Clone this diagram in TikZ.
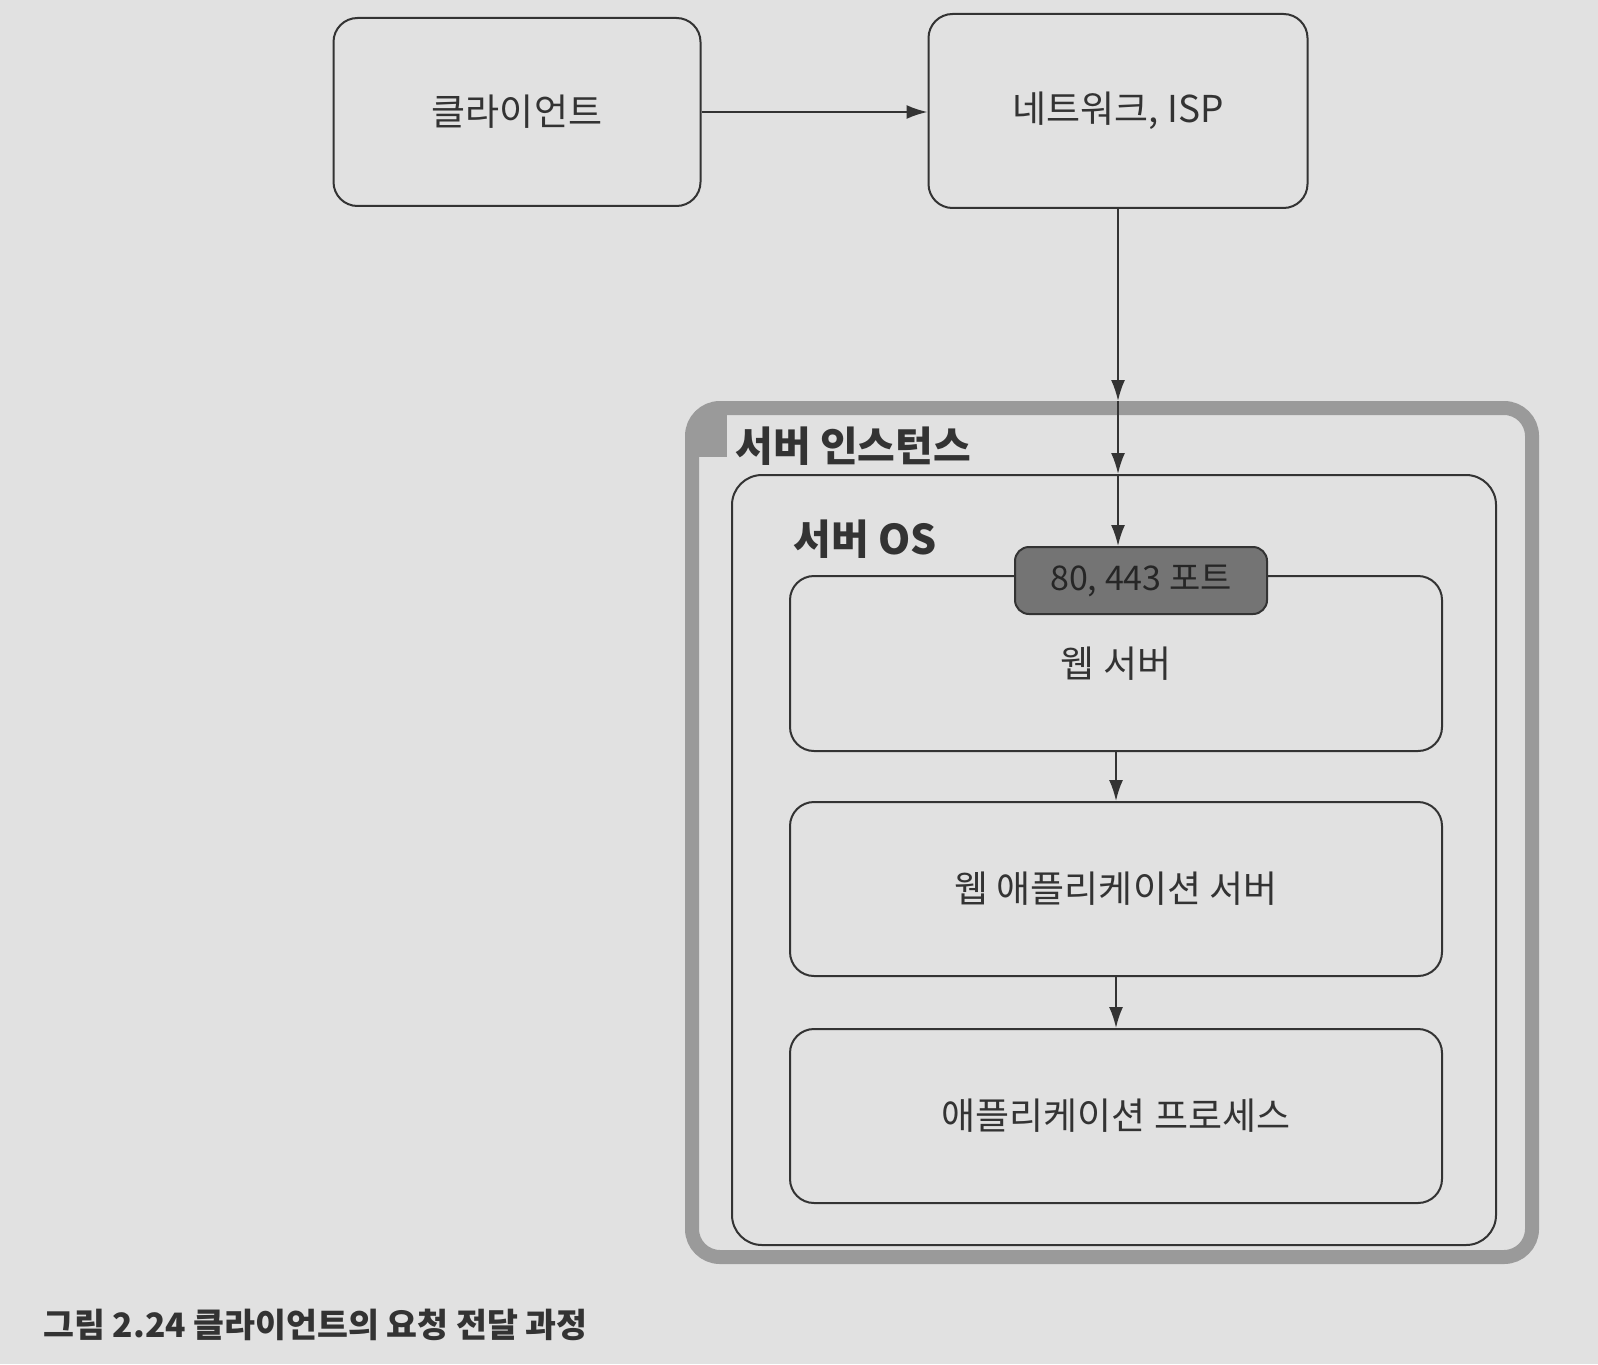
\documentclass[tikz,border=0pt]{standalone}
\usepackage{fontspec}
\setmainfont{Noto Sans CJK KR}
\usetikzlibrary{arrows.meta}
\definecolor{paper}{HTML}{E1E1E1}
\definecolor{ink}{HTML}{333333}
\definecolor{framegray}{HTML}{9A9A9A}
\definecolor{portfill}{HTML}{747474}

\begin{document}
\begin{tikzpicture}[
		x=0.5pt, y=-0.5pt,
		>={Latex[length=10.5pt,width=7pt]},
		box/.style={draw=ink, line width=1pt, rounded corners=12pt, inner sep=0pt, text=ink, font=\fontsize{18.5}{22}\selectfont},
		frame/.style={draw=framegray, line width=7pt, rounded corners=14pt, inner sep=0pt},
		port/.style={box, fill=portfill, text=black!85, rounded corners=7pt, font=\fontsize{17}{20}\selectfont},
		title/.style={anchor=west, inner sep=0pt, text=ink, font=\bfseries\fontsize{20.5}{24}\selectfont},
		flow/.style={->, draw=ink, line width=1pt},
	]
	\fill[paper] (0,0) rectangle (1598,1364);
	\useasboundingbox (0,0) rectangle (1598,1364);
	% top row
	\node[box, minimum width=183.5pt, minimum height=94pt] (client) at (517,112) {클라이언트};
	\node[box, minimum width=189.5pt, minimum height=97pt] (isp) at (1118,111) {네트워크, ISP};
	% server instance and os
	\node[frame, minimum width=420pt, minimum height=424.5pt] (inst) at (1112,832.5) {};
	\fill[framegray] (699,412) rectangle (727,457);
	\node[title] (insttitle) at (735,446) {서버 인스턴스};
	\node[box, rounded corners=15pt, minimum width=382pt, minimum height=385pt] (os) at (1114,860) {};
	\node[title] (ostitle) at (793,539) {서버 OS};
	% processes
	\node[box, minimum width=326pt, minimum height=87.5pt] (web) at (1116,663.5) {웹 서버};
	\node[box, minimum width=326pt, minimum height=87pt] (webapp) at (1116,889) {웹 애플리케이션 서버};
	\node[box, minimum width=326pt, minimum height=87pt] (app) at (1116,1116) {애플리케이션 프로세스};
	\node[port, minimum width=126pt, minimum height=33.5pt] (port) at (1141,580.5) {80, 443 포트};
	% arrows
	\draw[flow] (client.east) -- (client.east -| isp.west);
	\draw[flow] (isp) -- (isp |- inst.north);
	\draw[flow] (isp |- inst.north) -- (isp |- os.north);
	\draw[flow] (isp |- os.north) -- (isp |- port.north);
	\draw[flow] (web) -- (webapp);
	\draw[flow] (webapp) -- (app);
	% caption
	\node[anchor=west, inner sep=0pt, text=ink, font=\bfseries\fontsize{16.8}{20}\selectfont] (caption) at (43,1325) {그림 2.24 클라이언트의 요청 전달 과정};
\end{tikzpicture}
\end{document}
